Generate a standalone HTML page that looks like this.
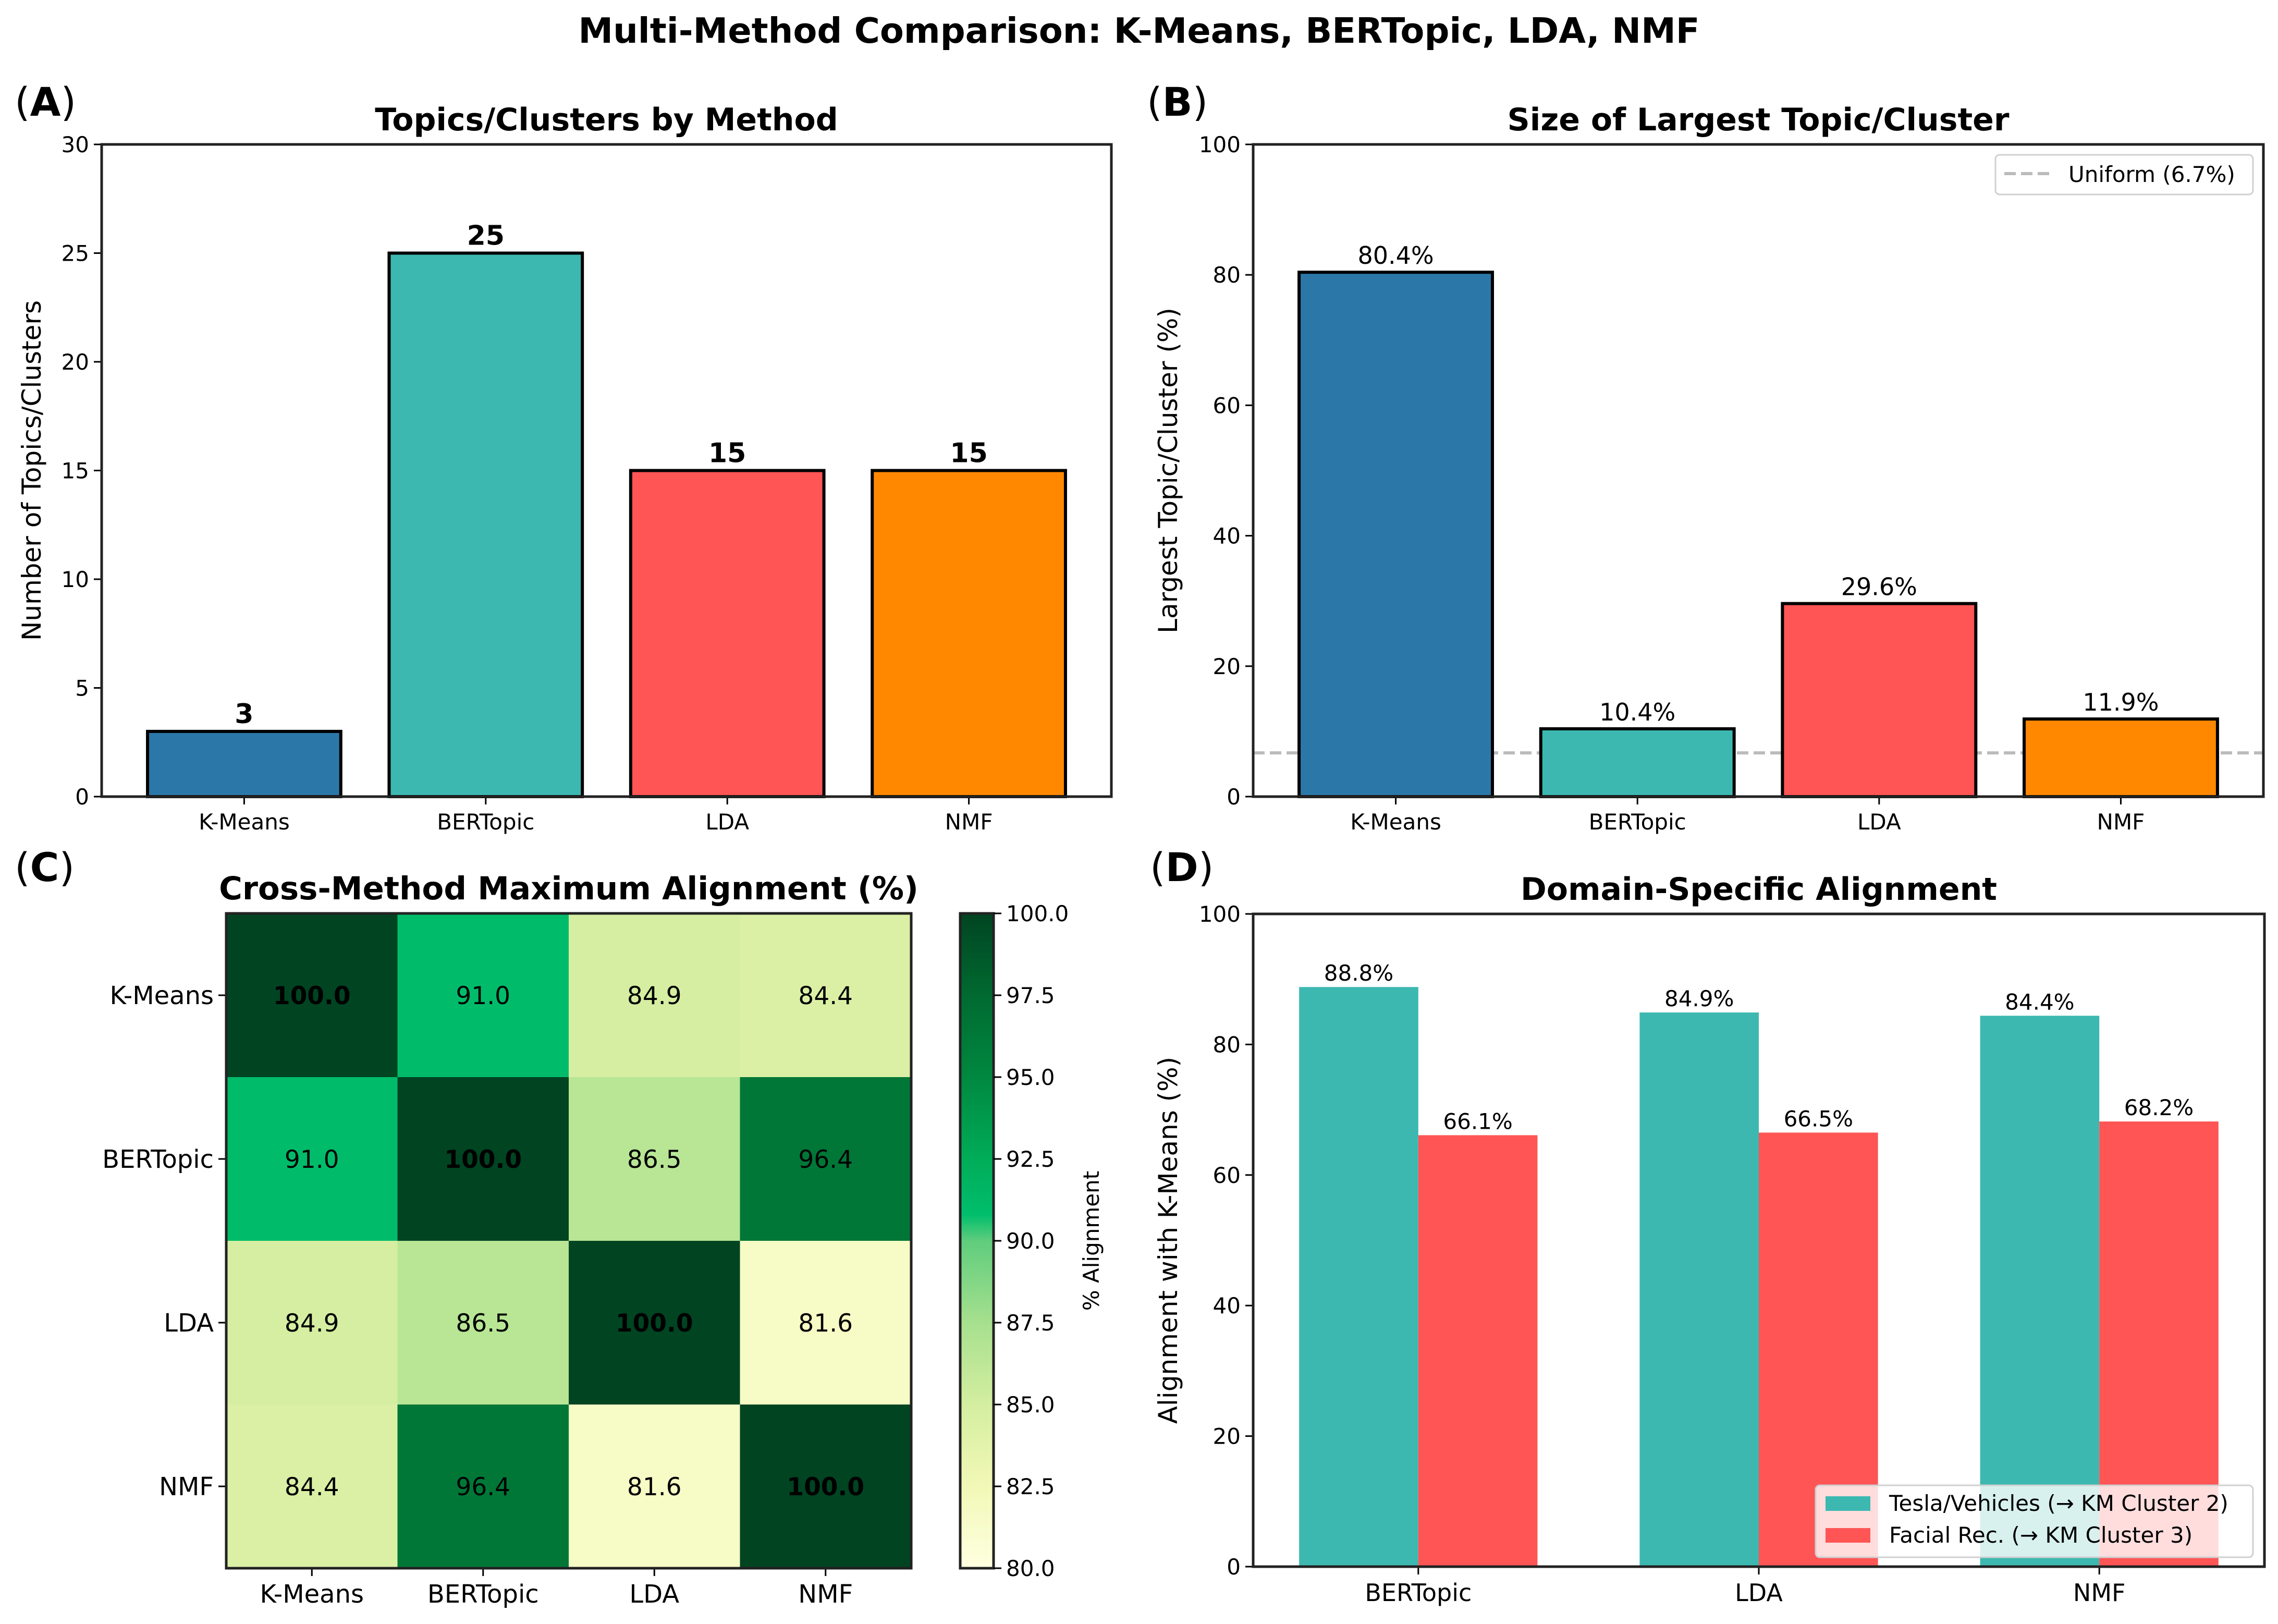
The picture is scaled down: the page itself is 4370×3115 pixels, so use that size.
<!DOCTYPE html>
<html><head><meta charset="utf-8">
<style>
html,body{margin:0;padding:0;background:#fff;}
svg{display:block;font-family:"DejaVu Sans","Liberation Sans",sans-serif;}
</style></head>
<body>
<svg id="fig" width="4370" height="3115" viewBox="0 0 4370 3115" xmlns="http://www.w3.org/2000/svg">
<rect width="4370" height="3115" fill="#fff"/>
<text x="2185" y="82" text-anchor="middle" font-size="67" font-weight="bold">Multi-Method Comparison: K-Means, BERTopic, LDA, NMF</text>
<g id="root"></g>
</svg>
<script>
const methods = ["K-Means","BERTopic","LDA","NMF"];
const topicCounts = [3,25,15,15];
const largestPct = [80.4,10.4,29.6,11.9];
const uniformPct = 6.7;
const methodColors = ["#2b78a8","#3cb8b1","#ff5555","#ff8800"];
const ticksA = [0,5,10,15,20,25,30];
const ticksB = [0,20,40,60,80,100];
const heatValues = [
  [100.0,91.0,84.9,84.4],
  [91.0,100.0,86.5,96.4],
  [84.9,86.5,100.0,81.6],
  [84.4,96.4,81.6,100.0]
];
const cbTicks = [80.0,82.5,85.0,87.5,90.0,92.5,95.0,97.5,100.0];
const domainGroups = ["BERTopic","LDA","NMF"];
const teslaVals = [88.8,84.9,84.4];
const facialVals = [66.1,66.5,68.2];
const ticksD = [0,20,40,60,80,100];

const NS="http://www.w3.org/2000/svg";
const root=document.getElementById('root');
function mk(tag,attrs,parent,text){
  const e=document.createElementNS(NS,tag);
  for(const k in attrs) e.setAttribute(k,attrs[k]);
  if(text!==undefined) e.textContent=text;
  (parent||root).appendChild(e);
  return e;
}
function lin(d0,d1,r0,r1){return v=>r0+(v-d0)/(d1-d0)*(r1-r0);}

function barPanel(cfg){
  const g=mk('g',{});
  
  
  const {L,R,T,B}=cfg;
  const x=lin(-0.59,3.59,L,R), y=lin(cfg.ymin,cfg.ymax,B,T);
  if(cfg.uniform!==undefined){
    const ul=mk('line',{x1:L,x2:R,y1:y(cfg.uniform),y2:y(cfg.uniform),stroke:'#bbbbbb','stroke-width':6,'stroke-dasharray':'22 10'},g);
    
    
  }
  cfg.values.forEach((v,i)=>{
    const x0=x(i-0.4),x1=x(i+0.4);
    const r=mk('rect',{x:x0,y:y(v),width:x1-x0,height:y(0)-y(v),fill:methodColors[i],stroke:'#000','stroke-width':6},g);
    
    
    const t=mk('text',{x:x(i),y:y(v)-16,'text-anchor':'middle','font-size':cfg.vfs,'font-weight':cfg.vbold?'bold':'normal'},g,cfg.fmt(v));
    
    
    mk('line',{x1:x(i),x2:x(i),y1:B,y2:B+15,stroke:'#000','stroke-width':3},g);
    const xl=mk('text',{x:x(i),y:B+63,'text-anchor':'middle','font-size':42},g,methods[i]);
    
    
  });
  cfg.ticks.forEach(t=>{
    mk('line',{x1:L-15,x2:L,y1:y(t),y2:y(t),stroke:'#000','stroke-width':3},g);
    const tl=mk('text',{x:L-24,y:y(t)+15,'text-anchor':'end','font-size':42},g,String(t));
    
    
  });
  const fr=mk('rect',{x:L,y:T,width:R-L,height:B-T,fill:'none',stroke:'#222','stroke-width':5},g);
  
  
  const tt=mk('text',{x:(L+R)/2,y:T-27,'text-anchor':'middle','font-size':60,'font-weight':'bold'},g,cfg.title);
  
  
  const yl=mk('text',{x:cfg.ylx,y:(T+B)/2,'text-anchor':'middle','font-size':50,transform:`rotate(-90 ${cfg.ylx} ${(T+B)/2})`},g,cfg.ylabel);
  
  
  return {g,x,y};
}
barPanel({name:'panel-a',L:195,R:2132,T:277,B:1528,ymin:0,ymax:30,values:topicCounts,ticks:ticksA,vfs:52,vbold:true,fmt:v=>String(v),title:'Topics/Clusters by Method',ylabel:'Number of Topics/Clusters',ylx:78});
barPanel({name:'panel-b',L:2404,R:4342,T:277,B:1528,ymin:0,ymax:100,values:largestPct,ticks:ticksB,vfs:46,vbold:false,fmt:v=>v.toFixed(1)+'%',uniform:uniformPct,title:'Size of Largest Topic/Cluster',ylabel:'Largest Topic/Cluster (%)',ylx:2258});
{
  const lg=mk('g',{});
  
  
  mk('rect',{x:3828,y:297,width:494,height:76,rx:8,fill:'#fff','fill-opacity':0.85,stroke:'#d0d0d0','stroke-width':3},lg);
  mk('line',{x1:3845,x2:3935,y1:333,y2:333,stroke:'#bbbbbb','stroke-width':6,'stroke-dasharray':'22 10'},lg);
  const t=mk('text',{x:3968,y:349,'font-size':42},lg,'Uniform (6.7%)');
  
  
}
[['(A)',28,222],['(B)',2200,222],['(C)',28,1690],['(D)',2206,1690]].forEach(([s,x,y])=>{
  const t=mk('text',{x:x,y:y,'font-size':76},root);
  
  
  t.innerHTML='('+'<tspan font-weight="bold">'+s[1]+'</tspan>'+')';
});

const cmapStops=[[80,[255,255,224]],[82.5,[242,248,182]],[85,[212,238,160]],[87.5,[166,224,142]],[90,[95,205,125]],[90.8,[0,190,108]],[92.5,[0,172,88]],[95,[0,136,64]],[97.5,[0,106,48]],[100,[0,68,34]]];
function cmap(v){
  for(let i=0;i<cmapStops.length-1;i++){
    const [a,ca]=cmapStops[i],[b,cb]=cmapStops[i+1];
    if(v<=b){const t=Math.max(0,(v-a)/(b-a));return 'rgb('+ca.map((c,k)=>Math.round(c+(cb[k]-c)*t)).join(',')+')';}
  }
  return 'rgb(0,68,34)';
}
{
  const g=mk('g',{});
  
  
  const L=434,R=1748,T=1752,B=3008;
  const n=methods.length;
  const x=lin(-0.5,n-0.5,L,R), y=lin(-0.5,n-0.5,T,B);
  heatValues.forEach((row,i)=>row.forEach((v,j)=>{
    const c=mk('rect',{x:x(j-0.5),y:y(i-0.5),width:x(j+0.5)-x(j-0.5)+0.5,height:y(i+0.5)-y(i-0.5)+0.5,fill:cmap(v)},g);
    
    
    const t=mk('text',{x:x(j),y:y(i)+17,'text-anchor':'middle','font-size':47,'font-weight':i===j?'bold':'normal'},g,v.toFixed(1));
    
    
  }));
  methods.forEach((m,k)=>{
    mk('line',{x1:L-15,x2:L,y1:y(k),y2:y(k),stroke:'#000','stroke-width':3},g);
    const yl=mk('text',{x:L-24,y:y(k)+17,'text-anchor':'end','font-size':48},g,m);
    
    
    mk('line',{x1:x(k),x2:x(k),y1:B,y2:B+15,stroke:'#000','stroke-width':3},g);
    const xl=mk('text',{x:x(k),y:B+66,'text-anchor':'middle','font-size':48},g,m);
    
    
  });
  mk('rect',{x:L,y:T,width:R-L,height:B-T,fill:'none',stroke:'#222','stroke-width':5},g);
  const tt=mk('text',{x:(L+R)/2,y:T-27,'text-anchor':'middle','font-size':61,'font-weight':'bold'},g,'Cross-Method Maximum Alignment (%)');
  
  
  const CL=1842,CR=1906;
  const cy=lin(80,100,B,T);
  const defs=mk('defs',{},g);
  const grad=mk('linearGradient',{id:'cbg',x1:0,y1:1,x2:0,y2:0},defs);
  cmapStops.forEach(([v,c])=>mk('stop',{offset:((v-80)/20).toFixed(4),'stop-color':'rgb('+c.join(',')+')'},grad));
  const cb=mk('rect',{x:CL,y:T,width:CR-CL,height:B-T,fill:'url(#cbg)',stroke:'#222','stroke-width':5},g);
  
  
  cbTicks.forEach(t=>{
    mk('line',{x1:CR,x2:CR+15,y1:cy(t),y2:cy(t),stroke:'#000','stroke-width':3},g);
    const tl=mk('text',{x:CR+24,y:cy(t)+15,'font-size':42},g,t.toFixed(1));
    
    
  });
  const cl=mk('text',{x:2108,y:(T+B)/2,'text-anchor':'middle','font-size':42,transform:`rotate(-90 2108 ${(T+B)/2})`},g,'% Alignment');
  
  
}

{
  const g=mk('g',{});
  
  
  const L=2404,R=4344,T=1753,B=3005,w=0.35;
  const x=lin(-0.485,2.485,L,R), y=lin(0,100,B,T);
  const series=[[teslaVals,'#3cb8b1',-1,'tesla'],[facialVals,'#ff5555',1,'facial']];
  series.forEach(([vals,col,s,nm])=>vals.forEach((v,i)=>{
    const cx=i+s*w/2;
    const r=mk('rect',{x:x(cx-w/2),y:y(v),width:x(cx+w/2)-x(cx-w/2),height:y(0)-y(v),fill:col},g);
    
    
    const t=mk('text',{x:x(cx),y:y(v)-12,'text-anchor':'middle','font-size':42},g,v.toFixed(1)+'%');
    
    
  }));
  domainGroups.forEach((m,i)=>{
    mk('line',{x1:x(i),x2:x(i),y1:B,y2:B+15,stroke:'#000','stroke-width':3},g);
    const xl=mk('text',{x:x(i),y:B+66,'text-anchor':'middle','font-size':46},g,m);
    
    
  });
  ticksD.forEach(t=>{
    mk('line',{x1:L-15,x2:L,y1:y(t),y2:y(t),stroke:'#000','stroke-width':3},g);
    const tl=mk('text',{x:L-24,y:y(t)+15,'text-anchor':'end','font-size':42},g,String(t));
    
    
  });
  mk('rect',{x:L,y:T,width:R-L,height:B-T,fill:'none',stroke:'#222','stroke-width':5},g);
  const tt=mk('text',{x:(L+R)/2,y:T-27,'text-anchor':'middle','font-size':60,'font-weight':'bold'},g,'Domain-Specific Alignment');
  
  
  const yl=mk('text',{x:2258,y:(T+B)/2,'text-anchor':'middle','font-size':50,transform:`rotate(-90 2258 ${(T+B)/2})`},g,'Alignment with K-Means (%)');
  
  
  const lg=mk('g',{},g);
  
  
  mk('rect',{x:3483,y:2849,width:839,height:138,rx:8,fill:'#fff','fill-opacity':0.8,stroke:'#d0d0d0','stroke-width':3},lg);
  mk('rect',{x:3502,y:2870,width:86,height:28,fill:'#3cb8b1'},lg);
  mk('rect',{x:3502,y:2931,width:86,height:28,fill:'#ff5555'},lg);
  const l1=mk('text',{x:3624,y:2898,'font-size':42},lg,'Tesla/Vehicles (→ KM Cluster 2)');
  
  
  const l2=mk('text',{x:3624,y:2959,'font-size':42},lg,'Facial Rec. (→ KM Cluster 3)');
  
  
}
</script>
</body></html>
